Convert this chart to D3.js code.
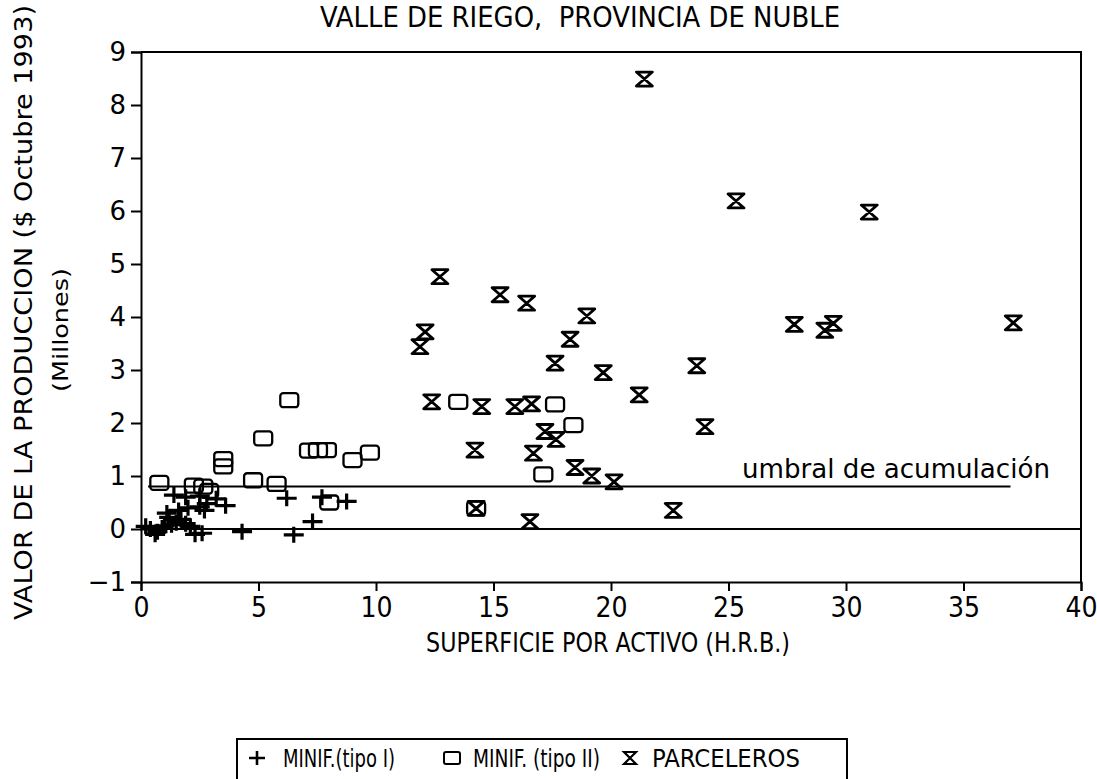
<!DOCTYPE html>
<html>
<head>
<meta charset="utf-8">
<script src="https://cdn.jsdelivr.net/npm/d3@7"></script>
<style>
  body { margin: 0; background: #fff; }
  svg { display: block; }
  text { white-space: pre; }
</style>
</head>
<body>
<script>
//series data: [superficie, valor]
var tipoI = [
    [0.2, 0.05], [0.4, 0.0], [0.6, -0.1], [0.7, -0.05], [0.9, 0.02], [1.0, 0.06],
    [1.1, 0.3], [1.2, 0.22], [1.3, 0.08], [1.4, 0.64], [1.5, 0.12], [1.6, 0.35],
    [1.7, 0.18], [1.9, 0.6], [1.9, 0.1], [2.0, 0.4], [2.1, 0.05], [2.3, -0.1],
    [2.5, 0.42], [2.5, 0.62], [2.6, -0.08], [2.7, 0.35], [2.8, 0.48], [3.2, 0.57],
    [3.6, 0.44], [4.3, -0.05], [6.2, 0.58], [6.5, -0.11], [7.3, 0.14], [7.7, 0.6],
    [8.75, 0.52]
];
var tipoII = [
    [0.78, 0.87], [2.25, 0.82], [2.65, 0.8], [2.9, 0.72], [3.5, 1.32], [3.5, 1.18],
    [4.77, 0.92], [5.2, 1.71], [5.77, 0.85], [6.31, 2.43], [7.15, 1.48], [7.53, 1.49],
    [7.91, 1.49], [8.01, 0.5], [9.0, 1.3], [9.74, 1.44], [13.5, 2.4], [14.26, 0.39],
    [17.12, 1.03], [17.62, 2.35], [18.4, 1.96]
];
var parceleros = [
    [21.42, 8.49], [25.32, 6.19], [30.99, 5.98], [12.72, 4.76], [15.28, 4.42],
    [16.41, 4.26], [18.97, 4.02], [12.09, 3.72], [11.87, 3.44], [18.26, 3.58],
    [17.62, 3.13], [19.67, 2.95], [27.8, 3.86], [29.1, 3.75], [29.46, 3.88],
    [37.12, 3.89], [23.65, 3.08], [21.2, 2.53], [12.37, 2.4], [14.5, 2.31],
    [15.91, 2.31], [16.62, 2.36], [24.0, 1.93], [17.19, 1.84], [17.66, 1.69],
    [14.21, 1.49], [16.7, 1.43], [18.47, 1.16], [19.18, 1.0], [20.13, 0.89],
    [14.26, 0.39], [16.55, 0.14], [22.65, 0.35]
];
var xTicks = [0, 5, 10, 15, 20, 25, 30, 35, 40];
var yTicks = [-1, 0, 1, 2, 3, 4, 5, 6, 7, 8, 9];
var umbral = [[0.3, 0.8], [37.0, 0.8]];
var cero = [[0, 0], [40, 0]];
var legendItems = ["MINIF.(tipo I)", "MINIF. (tipo II)", "PARCELEROS"];

var narrow = "'Liberation Sans Narrow', 'DejaVu Sans Condensed', 'Arial Narrow', sans-serif";
var round = "'DejaVu Sans', 'Noto Sans', sans-serif";

var w = 1097, h = 779;
var svg = d3.select("body").append("svg")
    .attr("width", w)
    .attr("height", h)
    .style("background-color", "#fff");

/**** scales ****/
var x = d3.scaleLinear().domain([0, 40]).range([141, 1081]);
var y = d3.scaleLinear().domain([-1, 9]).range([582, 52]);

//frame (top and right)
svg.append("path")
    .attr("d", "M" + x(0) + "," + y(9) + "H" + x(40) + "V" + y(-1))
    .attr("fill", "none")
    .attr("stroke", "#000")
    .attr("stroke-width", 2);

/**** axes ****/
var yAxis = d3.axisLeft(y).tickValues(yTicks).tickSize(10).tickPadding(5)
    .tickFormat(function(d){ return d < 0 ? "\u2212" + Math.abs(d) : d; });
var gy = svg.append("g")
    .attr("transform", "translate(" + x(0) + ",0)")
    .call(yAxis);
gy.selectAll("text")
    .style("font-family", round)
    .style("font-size", "26px")
    .attr("fill", "#000");

var xAxis = d3.axisBottom(x).tickValues(xTicks).tickSize(9).tickPadding(6);
var gx = svg.append("g")
    .attr("transform", "translate(0," + y(-1) + ")")
    .call(xAxis);
gx.selectAll("text")
    .style("font-family", narrow)
    .style("font-size", "28px")
    .attr("fill", "#000");

svg.selectAll(".domain, .tick line")
    .attr("stroke", "#000")
    .attr("stroke-width", 2);

/**** reference lines ****/
var line = d3.line()
    .x(function(d){ return x(d[0]); })
    .y(function(d){ return y(d[1]); });
svg.append("path").datum(cero)
    .attr("d", line)
    .attr("stroke", "#000")
    .attr("stroke-width", 2);
svg.append("path").datum(umbral)
    .attr("d", line)
    .attr("stroke", "#000")
    .attr("stroke-width", 2);
svg.append("text")
    .attr("x", 742)
    .attr("y", 478)
    .attr("textLength", 308)
    .attr("lengthAdjust", "spacingAndGlyphs")
    .style("font-family", round)
    .style("font-size", "26px")
    .text("umbral de acumulaci\u00f3n");

/**** markers ****/
var plusPath = "M-10,0H10M0,-8V8";
var hourPath = "M-8,-7H8L0,0ZM-8,7H8L0,0Z";

function drawPlus(sel){
    sel.append("path")
        .attr("d", plusPath)
        .attr("fill", "none")
        .attr("stroke", "#000")
        .attr("stroke-width", 3.2);
}
function drawSquare(sel){
    sel.append("rect")
        .attr("x", -9).attr("y", -7)
        .attr("width", 18).attr("height", 14)
        .attr("rx", 3)
        .attr("fill", "none")
        .attr("stroke", "#000")
        .attr("stroke-width", 2.3);
}
function drawHour(sel){
    sel.append("path")
        .attr("d", hourPath)
        .attr("fill", "none")
        .attr("stroke", "#000")
        .attr("stroke-width", 2.8)
        .attr("stroke-linejoin", "round");
}

function place(d){ return "translate(" + x(d[0]) + "," + y(d[1]) + ")"; }

svg.selectAll(".tipoI").data(tipoI).enter().append("g")
    .attr("class", "tipoI").attr("transform", place).call(drawPlus);
svg.selectAll(".tipoII").data(tipoII).enter().append("g")
    .attr("class", "tipoII").attr("transform", place).call(drawSquare);
svg.selectAll(".parc").data(parceleros).enter().append("g")
    .attr("class", "parc").attr("transform", place).call(drawHour);

/**** titles ****/
svg.append("text")
    .attr("x", 320)
    .attr("y", 27)
    .attr("textLength", 520)
    .attr("lengthAdjust", "spacingAndGlyphs")
    .style("font-family", narrow)
    .style("font-size", "29px")
    .text("VALLE DE RIEGO,  PROVINCIA DE NUBLE");

svg.append("text")
    .attr("x", 426)
    .attr("y", 652)
    .attr("textLength", 364)
    .attr("lengthAdjust", "spacingAndGlyphs")
    .style("font-family", narrow)
    .style("font-size", "26px")
    .text("SUPERFICIE POR ACTIVO (H.R.B.)");

svg.append("text")
    .attr("transform", "translate(32,620) rotate(-90)")
    .attr("textLength", 615)
    .attr("lengthAdjust", "spacingAndGlyphs")
    .style("font-family", round)
    .style("font-size", "25px")
    .text("VALOR DE LA PRODUCCION ($ Octubre 1993)");

svg.append("text")
    .attr("transform", "translate(68,392) rotate(-90)")
    .attr("textLength", 124)
    .attr("lengthAdjust", "spacingAndGlyphs")
    .style("font-family", round)
    .style("font-size", "22px")
    .text("(Millones)");

/**** legend ****/
svg.append("rect")
    .attr("x", 237).attr("y", 739)
    .attr("width", 610).attr("height", 60)
    .attr("fill", "none")
    .attr("stroke", "#000")
    .attr("stroke-width", 2);

var legMarkX = [257, 452, 630];
var legTextX = [283, 473, 652];
var legTextW = [112, 127, 148];
legendItems.forEach(function(t, i){
    var g = svg.append("g").attr("transform", "translate(" + legMarkX[i] + ",758)");
    if (i === 0) {
        g.append("path").attr("d", "M-8,0H8M0,-7V7")
            .attr("stroke", "#000").attr("stroke-width", 2.6);
    } else if (i === 1) {
        g.append("rect").attr("x", -8).attr("y", -6).attr("width", 16).attr("height", 12)
            .attr("rx", 2).attr("fill", "none").attr("stroke", "#000").attr("stroke-width", 2);
    } else {
        g.append("path").attr("d", "M-6,-6H6L0,0ZM-6,6H6L0,0Z")
            .attr("fill", "none").attr("stroke", "#000").attr("stroke-width", 2.2);
    }
    svg.append("text")
        .attr("x", legTextX[i])
        .attr("y", 767)
        .attr("textLength", legTextW[i])
        .attr("lengthAdjust", "spacingAndGlyphs")
        .style("font-family", narrow)
        .style("font-size", "24px")
        .text(t);
});
</script>
</body>
</html>
